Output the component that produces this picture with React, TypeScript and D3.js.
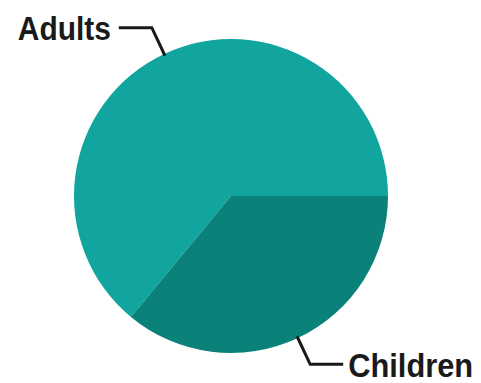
import React from "react";
import * as d3 from "d3";

const categories = ["Adults", "Children"];
const values = [64, 36];
const colors = ["#12a49f", "#0a8179"];
const labelWidths = [93, 125];

const W = 481;
const H = 383;
const cx = 231;
const cy = 196;
const R = 157;

export default function App() {
  const pie = d3
    .pie<number>()
    .sort(null)
    .startAngle(Math.PI / 2 + 2 * Math.PI)
    .endAngle(Math.PI / 2);
  const arcs = pie(values);
  const arc = d3.arc<d3.PieArcDatum<number>>().innerRadius(0).outerRadius(R);

  return (
    <svg
      width={W}
      height={H}
      style={{ position: "absolute", left: 0, top: 0, background: "#fff" }}
      fontFamily="'Liberation Sans', Arial, sans-serif"
    >
      <g transform={`translate(${cx},${cy})`}>
        {arcs.map((a, i) => (
          <path key={categories[i]} d={arc(a) || ""} fill={colors[i]} />
        ))}
        {arcs.map((a, i) => {
          const mid = (a.startAngle + a.endAngle) / 2;
          const sx = Math.sin(mid);
          const sy = -Math.cos(mid);
          const p0 = [sx * (R - 2), sy * (R - 2)];
          const p1 = [sx * 186, sy * 186];
          const right = sx > 0;
          const p2 = [p1[0] + (right ? 33 : -33), p1[1]];
          const tx = right ? p2[0] + 5 : p2[0] - 8 - labelWidths[i];
          return (
            <g key={"l" + i}>
              <polyline
                points={[p0, p1, p2].map((p) => p.join(",")).join(" ")}
                fill="none"
                stroke="#1a1a1a"
                strokeWidth={3}
              />
              <text
                x={tx}
                y={p2[1]}
                dy="0.38em"
                textAnchor="start"
                fontSize={33}
                fontWeight="bold"
                fill="#1a1a1a"
                textLength={labelWidths[i]}
                lengthAdjust="spacingAndGlyphs"
              >
                {categories[i]}
              </text>
            </g>
          );
        })}
      </g>
    </svg>
  );
}
